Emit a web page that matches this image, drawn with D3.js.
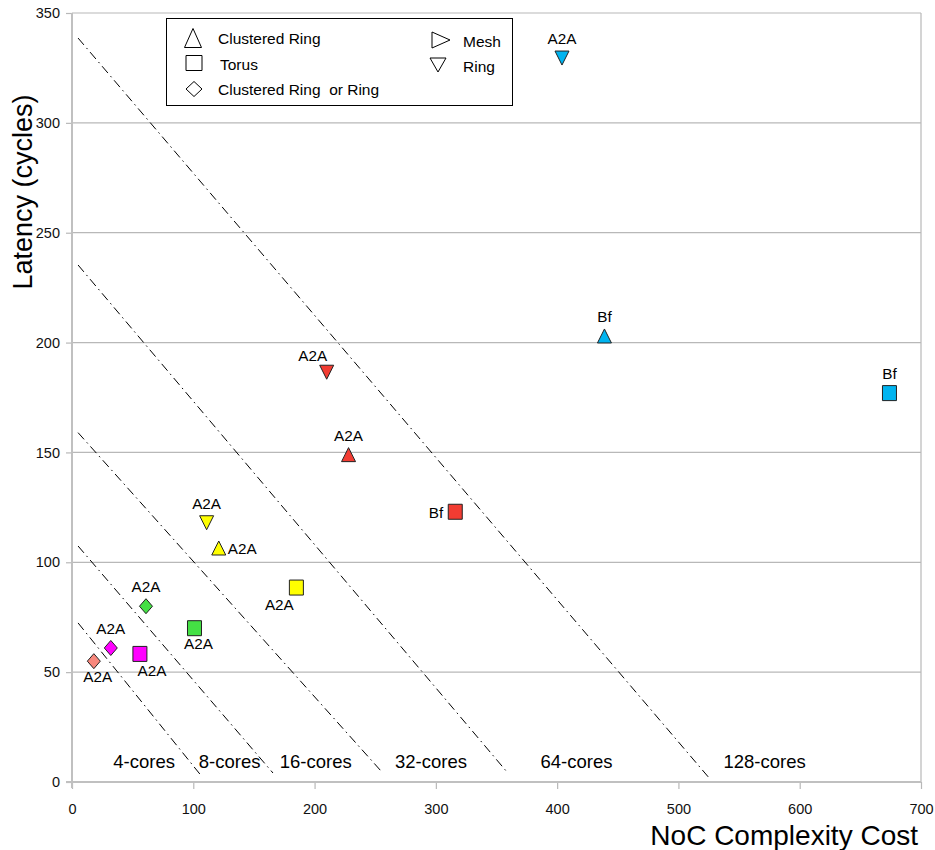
<!DOCTYPE html>
<html>
<head>
<meta charset="utf-8">
<script src="https://cdn.jsdelivr.net/npm/d3@7"></script>
<style>
  body { margin: 0; background: #fff; }
  text { font-family: "Liberation Sans", Arial, sans-serif; }
</style>
</head>
<body>
<script>
// points
var cost    = [18, 32, 56, 61, 101, 111, 121, 185, 210, 228, 316, 404, 439, 674];
var latency = [55, 61, 58.3, 80, 70, 118, 106.5, 88.5, 186.5, 149, 123, 329.5, 203, 177];
var shape   = ["diamond","diamond","square","diamond","square","down","up","square","down","up","square","down","up","square"];
var color   = ["#f8877c","#ff00ff","#ff00ff","#44e044","#44e044","#ffff00","#ffff00","#ffff00","#f23c32","#f23c32","#f23c32","#00b4f0","#00b4f0","#00b4f0"];
var label   = ["A2A","A2A","A2A","A2A","A2A","A2A","A2A","A2A","A2A","A2A","Bf","A2A","Bf","Bf"];
var labelAt = ["below","above","belowRight","above","below","above","right","belowLeft","aboveLeft","above","left","above","above","above"];

// core boundary lines (data coords)
var lineX0 = [5, 5, 5, 5, 5];
var lineY0 = [72.4, 107.4, 159, 235.3, 338.6];
var lineX1 = [107.2, 165.7, 255.6, 359.5, 526];
var lineY1 = [2.4, 4.1, 4.5, 4, 1.4];

var regionNames = ["4-cores","8-cores","16-cores","32-cores","64-cores","128-cores"];
var regionX     = [59.5, 130, 201, 296, 416, 571];
var regionY     = 6.4;

var xTicks = [0,100,200,300,400,500,600,700];
var yTicks = [0,50,100,150,200,250,300,350];

var legendShapes = ["up","square","diamond","right","down"];
var legendNames  = ["Clustered Ring","Torus","Clustered Ring  or Ring","Mesh","Ring"];

var W = 935, H = 850;
var x = d3.scaleLinear().domain([0,700]).range([72, 921]);
var y = d3.scaleLinear().domain([0,350]).range([782, 13]);

var svg = d3.select("body").append("svg")
  .attr("width", W).attr("height", H);

function shapePath(t, w, h) {
  var a = w/2, b = h/2;
  if (t == "up") return "M0," + (-b) + "L" + a + "," + b + "L" + (-a) + "," + b + "Z";
  if (t == "down") return "M" + (-a) + "," + (-b) + "L" + a + "," + (-b) + "L0," + b + "Z";
  if (t == "right") return "M" + (-a) + "," + (-b) + "L" + a + ",0L" + (-a) + "," + b + "Z";
  if (t == "diamond") return "M0," + (-b) + "L" + a + ",0L0," + b + "L" + (-a) + ",0Z";
  return "M" + (-a) + "," + (-b) + "H" + a + "V" + b + "H" + (-a) + "Z";
}

// grid
svg.append("g").selectAll("line").data(yTicks.slice(1)).enter().append("line")
  .attr("x1", x(0)).attr("x2", x(700))
  .attr("y1", function(d){ return y(d); }).attr("y2", function(d){ return y(d); })
  .attr("stroke", "#b8b8b8").attr("stroke-width", 1.2);
svg.append("line").attr("x1", x(700)).attr("x2", x(700)).attr("y1", y(350)).attr("y2", y(0))
  .attr("stroke", "#b8b8b8").attr("stroke-width", 1.2);

// axes
var xAxis = d3.axisBottom(x).tickValues(xTicks).tickSize(7).tickPadding(15);
var gx = svg.append("g").attr("transform", "translate(0," + y(0) + ")").call(xAxis);
var yAxis = d3.axisLeft(y).tickValues(yTicks).tickSize(6).tickPadding(6);
var gy = svg.append("g").attr("transform", "translate(" + x(0) + ",0)").call(yAxis);
[gx, gy].forEach(function(g) {
  g.select(".domain").remove();
  g.selectAll(".tick line").attr("stroke", "#b8b8b8").attr("stroke-width", 1.2);
  g.selectAll(".tick text").attr("font-size", 14.5).attr("fill", "#111")
    .style("font-family", "'Liberation Sans', Arial, sans-serif");
});
svg.append("line").attr("x1", x(0) - 6).attr("x2", x(700)).attr("y1", y(0)).attr("y2", y(0))
  .attr("stroke", "#c0c0c0").attr("stroke-width", 2);
svg.append("line").attr("x1", x(0)).attr("x2", x(0)).attr("y1", y(350)).attr("y2", y(0) + 6)
  .attr("stroke", "#c0c0c0").attr("stroke-width", 2);

// boundary lines
svg.append("g").selectAll("line").data(lineX0).enter().append("line")
  .attr("x1", function(d){ return x(d); })
  .attr("y1", function(d,i){ return y(lineY0[i]); })
  .attr("x2", function(d,i){ return x(lineX1[i]); })
  .attr("y2", function(d,i){ return y(lineY1[i]); })
  .attr("stroke", "#000").attr("stroke-width", 1)
  .attr("stroke-dasharray", "9,4,1.5,4");

// region labels
svg.append("g").selectAll("text").data(regionNames).enter().append("text")
  .attr("x", function(d,i){ return x(regionX[i]); })
  .attr("y", y(regionY))
  .attr("text-anchor", "middle").attr("font-size", 18.5)
  .text(function(d){ return d; });

// markers
var pts = cost.map(function(c,i){ return {x:c, y:latency[i], s:shape[i], c:color[i], l:label[i], p:labelAt[i]}; });
var dims = {up:[14,14], down:[14,14], square:[14,15], diamond:[13,15]};
svg.append("g").selectAll("path").data(pts).enter().append("path")
  .attr("transform", function(d){ return "translate(" + x(d.x) + "," + y(d.y) + ")"; })
  .attr("d", function(d){ return shapePath(d.s, dims[d.s][0], dims[d.s][1]); })
  .attr("fill", function(d){ return d.c; })
  .attr("stroke", "#222").attr("stroke-width", 1);

var offs = {above:[0,-14,"middle"], aboveLeft:[-14,-11,"middle"], below:[4,21,"middle"],
  belowRight:[12,22,"middle"], belowLeft:[-17,22,"middle"], right:[9,6,"start"], left:[-12,6,"end"]};
svg.append("g").selectAll("text").data(pts).enter().append("text")
  .attr("x", function(d){ return x(d.x) + offs[d.p][0]; })
  .attr("y", function(d){ return y(d.y) + offs[d.p][1]; })
  .attr("text-anchor", function(d){ return offs[d.p][2]; })
  .attr("font-size", 15.3)
  .text(function(d){ return d.l; });

// legend
var lg = svg.append("g");
lg.append("rect").attr("x", 166.5).attr("y", 18.5).attr("width", 346).attr("height", 87)
  .attr("fill", "#fff").attr("stroke", "#000").attr("stroke-width", 1);
var lgPos = [[193,38,218,44],[194,63,220,70],[194,89,218,95],[441,40,463,47],[438,65,463,72]];
var lgDims = {up:[17,19], square:[16,15], diamond:[16,15], right:[18,16], down:[16,14]};
lg.selectAll("path").data(legendShapes).enter().append("path")
  .attr("transform", function(d,i){ return "translate(" + lgPos[i][0] + "," + lgPos[i][1] + ")"; })
  .attr("d", function(d){ return shapePath(d, lgDims[d][0], lgDims[d][1]); })
  .attr("fill", "#fff").attr("stroke", "#000").attr("stroke-width", 1);
lg.selectAll("text").data(legendNames).enter().append("text")
  .attr("x", function(d,i){ return lgPos[i][2]; })
  .attr("y", function(d,i){ return lgPos[i][3]; })
  .attr("font-size", 15.5)
  .style("white-space", "pre").attr("xml:space", "preserve")
  .text(function(d){ return d; });

// axis titles
svg.append("text").attr("x", 918).attr("y", 845).attr("text-anchor", "end")
  .attr("font-size", 28).text("NoC Complexity Cost");
svg.append("text").attr("transform", "translate(32,192) rotate(-90)")
  .attr("text-anchor", "middle").attr("font-size", 27).text("Latency (cycles)");
</script>
</body>
</html>
